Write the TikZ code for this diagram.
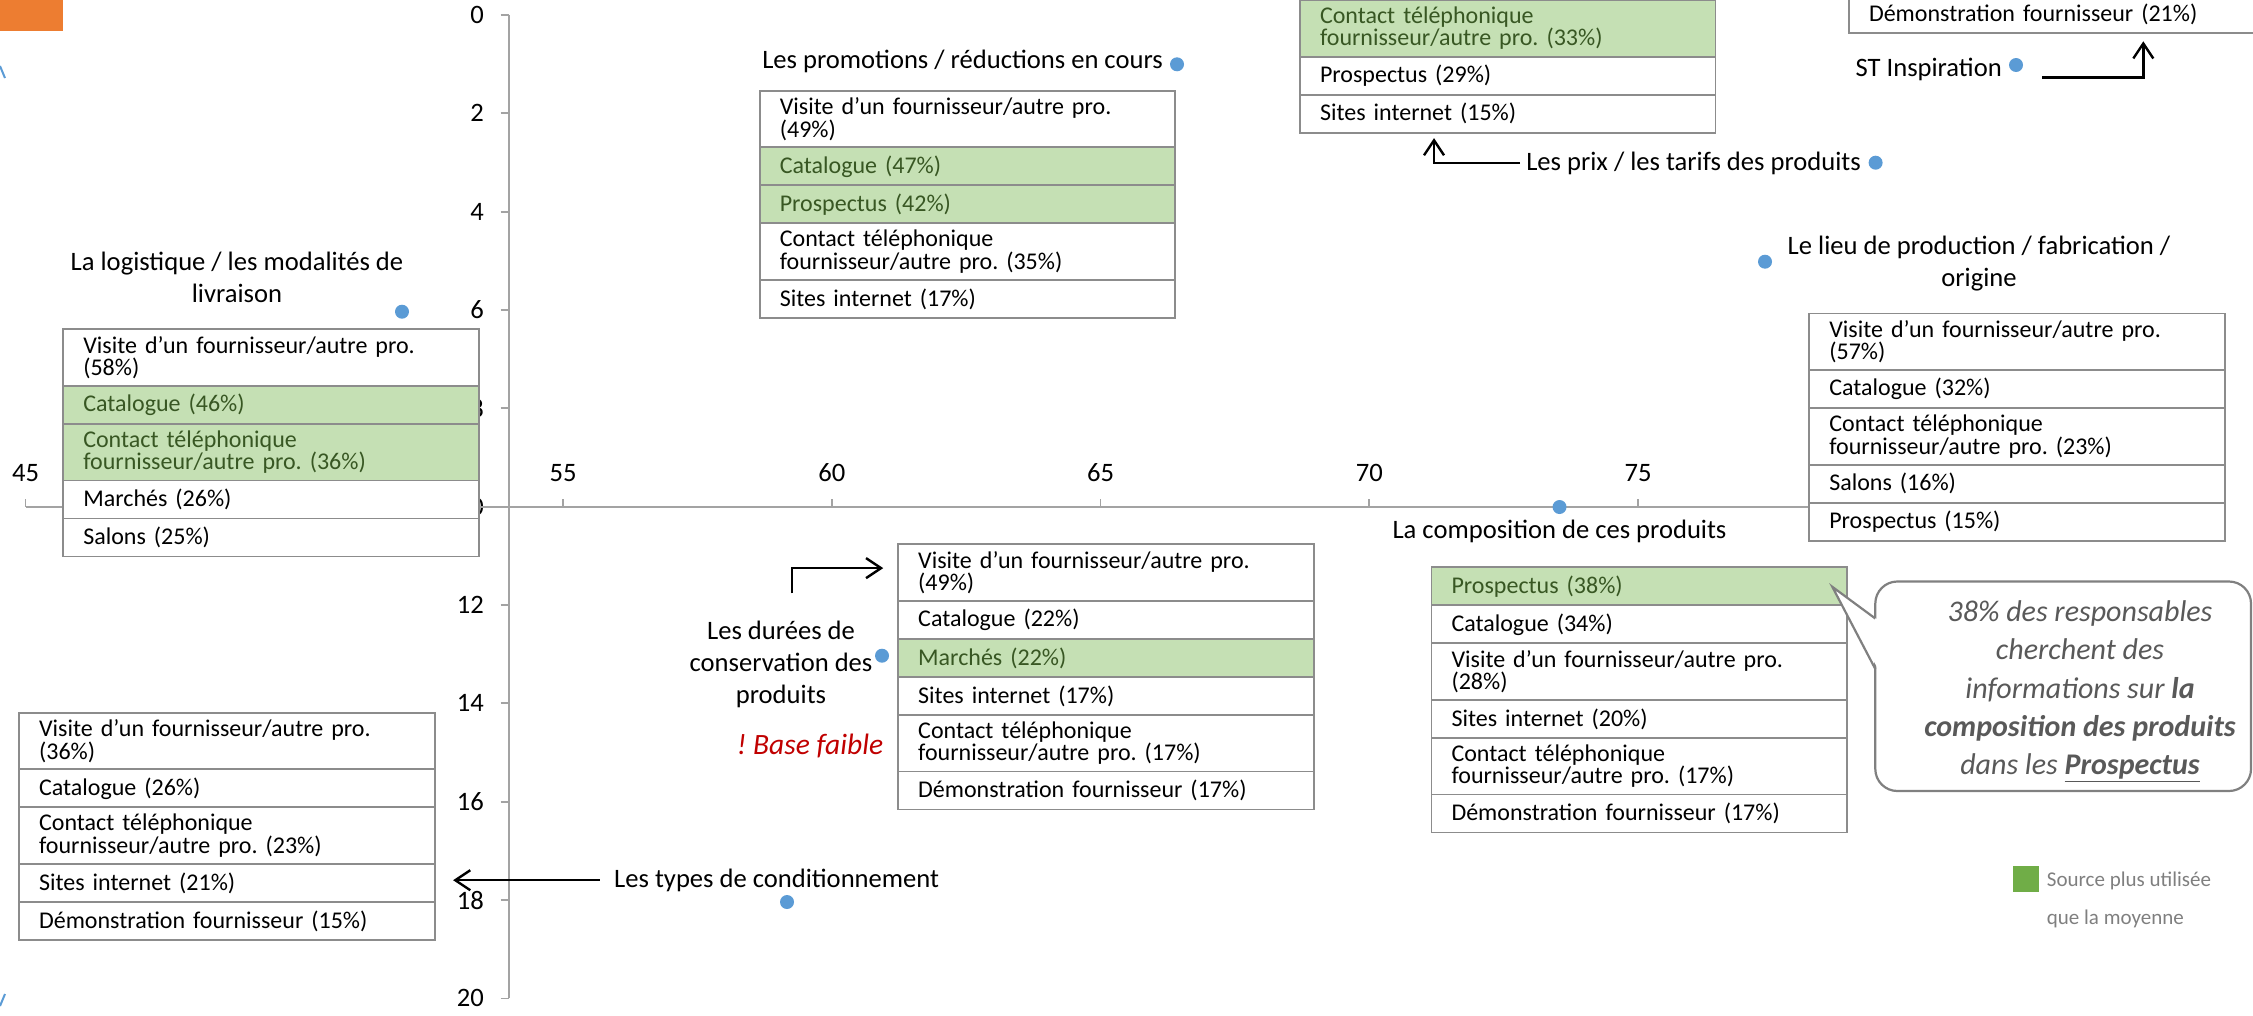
\documentclass[tikz,border=0pt]{standalone}
\usepackage{fontspec}
\setmainfont{Carlito}
\usetikzlibrary{arrows.meta}
\frenchspacing
\definecolor{boxgray}{HTML}{8C8C8C}
\definecolor{rowgreen}{HTML}{C5E0B4}
\definecolor{txtgreen}{HTML}{385723}
\definecolor{dotblue}{HTML}{5B9BD5}
\definecolor{axisgray}{HTML}{A3A3A3}
\definecolor{orangec}{HTML}{ED7D31}
\definecolor{leggreen}{HTML}{70AD47}
\definecolor{leggray}{HTML}{7F7F7F}
\definecolor{callgray}{HTML}{595959}
\definecolor{callborder}{HTML}{808080}
\definecolor{basered}{HTML}{C00000}
\newcommand\bxfont{\fontsize{24pt}{18.5pt}\selectfont}
\newcommand\lblfont{\fontsize{26.6pt}{32.4pt}\selectfont}
\begin{document}
\frenchspacing
\begin{tikzpicture}[x=1pt,y=-1pt,
  row/.style={draw=boxgray, line width=1.8pt, fill=white, text=black, anchor=north west,
    outer sep=0pt, inner xsep=20pt, inner ysep=0pt, text width=375.5pt, align=left, font=\bxfont},
  r1/.style={row, minimum height=38pt},
  r2/.style={row, minimum height=56.6pt},
  g1/.style={r1, fill=rowgreen, text=txtgreen},
  g2/.style={r2, fill=rowgreen, text=txtgreen},
  lbl/.style={font=\lblfont, text=black, inner sep=0pt, align=center},
  tick/.style={font=\lblfont, text=black, inner sep=0pt},
  axis/.style={draw=axisgray, line width=1.8pt},
  dot/.style={circle, fill=dotblue, inner sep=0pt, minimum size=14pt},
  arr/.style={draw=black, line width=2.4pt, -{Straight Barb[length=15pt,width=20pt,line width=2.4pt]}},
  callout/.style={draw=callborder, line width=2.2pt}
]
\useasboundingbox (0,0) rectangle (2253,1015);
\clip (0,0) rectangle (2253,1015);

% orange fragment and blue fragments at the left edge
\fill[orangec] (0,0) rectangle (63,31);
\draw[dotblue, line width=2pt] (0,66) -- (5,78);
\draw[dotblue, line width=2pt] (0,1006) -- (5,994);

% axes
\draw[axis] (509,15) -- (509,998);
\foreach \v in {0,2,...,20} {
  \draw[axis] (500.5,{15+49.17*\v}) -- (509,{15+49.17*\v});
  \node[tick, anchor=east] (yl\v) at (484,{15+49.17*\v}) {\v};
}
\draw[axis] (25.5,506.7) -- (1907,506.7);
\foreach \v in {45,50,...,80} {
  \draw[axis] ({25.5+53.75*(\v-45)},506.7) -- ({25.5+53.75*(\v-45)},498.5);
}
\foreach \v in {45,55,60,65,70,75} {
  \node[tick] (xl\v) at ({25.5+53.75*(\v-45)},473) {\v};
}

% La logistique
\node[r2] (lg1) at (63.3,329.3) {Visite d’un fournisseur/autre pro.\\(58\%)};
\node[g1] (lg2) at (lg1.south west) {Catalogue (46\%)};
\node[g2] (lg3) at (lg2.south west) {Contact téléphonique\\fournisseur/autre pro. (36\%)};
\node[r1] (lg4) at (lg3.south west) {Marchés (26\%)};
\node[r1] (lg5) at (lg4.south west) {Salons (25\%)};

% Les promotions
\node[r2] (pm1) at (759.8,90.7) {Visite d’un fournisseur/autre pro.\\(49\%)};
\node[g1] (pm2) at (pm1.south west) {Catalogue (47\%)};
\node[g1] (pm3) at (pm2.south west) {Prospectus (42\%)};
\node[r2] (pm4) at (pm3.south west) {Contact téléphonique\\fournisseur/autre pro. (35\%)};
\node[r1] (pm5) at (pm4.south west) {Sites internet (17\%)};

% Les prix
\node[g2] (pr1) at (1300,0) {Contact téléphonique\\fournisseur/autre pro. (33\%)};
\node[r1] (pr2) at (pr1.south west) {Prospectus (29\%)};
\node[r1] (pr3) at (pr2.south west) {Sites internet (15\%)};

% ST Inspiration
\node[r1] (st1) at (1849,-4.7) {Démonstration fournisseur (21\%)};

% Le lieu de production
\node[r2] (li1) at (1809.3,313.5) {Visite d’un fournisseur/autre pro.\\(57\%)};
\node[r1] (li2) at (li1.south west) {Catalogue (32\%)};
\node[r2] (li3) at (li2.south west) {Contact téléphonique\\fournisseur/autre pro. (23\%)};
\node[r1] (li4) at (li3.south west) {Salons (16\%)};
\node[r1] (li5) at (li4.south west) {Prospectus (15\%)};

% La composition
\node[g1] (co1) at (1431.5,567.3) {Prospectus (38\%)};
\node[r1] (co2) at (co1.south west) {Catalogue (34\%)};
\node[r2] (co3) at (co2.south west) {Visite d’un fournisseur/autre pro.\\(28\%)};
\node[r1] (co4) at (co3.south west) {Sites internet (20\%)};
\node[r2] (co5) at (co4.south west) {Contact téléphonique\\fournisseur/autre pro. (17\%)};
\node[r1] (co6) at (co5.south west) {Démonstration fournisseur (17\%)};

% Les durees de conservation
\node[r2] (du1) at (898.2,544.3) {Visite d’un fournisseur/autre pro.\\(49\%)};
\node[r1] (du2) at (du1.south west) {Catalogue (22\%)};
\node[g1] (du3) at (du2.south west) {Marchés (22\%)};
\node[r1] (du4) at (du3.south west) {Sites internet (17\%)};
\node[r2] (du5) at (du4.south west) {Contact téléphonique\\fournisseur/autre pro. (17\%)};
\node[r1] (du6) at (du5.south west) {Démonstration fournisseur (17\%)};

% Les types de conditionnement
\node[r2] (ty1) at (19.1,712.7) {Visite d’un fournisseur/autre pro.\\(36\%)};
\node[r1] (ty2) at (ty1.south west) {Catalogue (26\%)};
\node[r2] (ty3) at (ty2.south west) {Contact téléphonique\\fournisseur/autre pro. (23\%)};
\node[r1] (ty4) at (ty3.south west) {Sites internet (21\%)};
\node[r1] (ty5) at (ty4.south west) {Démonstration fournisseur (15\%)};

% labels
\node[lbl, anchor=base east] (pmlbl) at (1163,68.3) {Les promotions / réductions en cours};
\node[lbl] (lglbl) at (237,277.5) {La logistique / les modalités de\\livraison};
\node[lbl, anchor=base east] (prlbl) at (1861,170) {Les prix / les tarifs des produits};
\node[lbl, anchor=base east] (stlbl) at (2002,76) {ST Inspiration};
\node[lbl] (lilbl) at (1979,263.3) {Le lieu de production / fabrication /\\origine};
\node[lbl, anchor=base] (colbl) at (1559.5,538.3) {La composition de ces produits};
\node[lbl] (dulbl) at (781,664.4) {Les durées de\\conservation des\\produits};
\node[lbl, anchor=base, text=basered, font=\fontsize{29.5pt}{32pt}\selectfont\itshape] (bflbl) at (810,754) {! Base faible};
\node[lbl, anchor=base west] (tylbl) at (614,887.3) {Les types de conditionnement};

% data points
\node[dot] (dlg) at (402,311.7) {};
\node[dot] (dpm) at (1177,64.3) {};
\node[dot] (dpr) at (1875.6,162.7) {};
\node[dot] (dst) at (2016,65) {};
\node[dot] (dli) at (1765,261.7) {};
\node[dot] (dco) at (1559.5,507) {};
\node[dot] (ddu) at (882,655.7) {};
\node[dot] (dty) at (787,902) {};

% connectors
\coordinate (prA) at ([xshift=-6pt]prlbl.west);
\draw[arr, shorten >=5.5pt] (prA) -| ([xshift=134pt]pr3.south west);
\coordinate (stA) at (2042,77.3);
\draw[arr, shorten >=8pt] (stA) -| ([xshift=294.3pt]st1.south west);
\coordinate (duA) at (792,593.4);
\draw[arr, shorten >=15pt] (duA) |- ([yshift=4.5pt]du1.west);
\coordinate (tyA) at ([xshift=-14.5pt]tylbl.west);
\draw[arr, shorten >=18.5pt] (tyA) -- (tyA -| ty4.east);

% callout
\draw[callout, fill=white, rounded corners=22pt] (1875.3,581.5) rectangle (2251,791);
\fill[white] (1877.5,619.5) -- (1832.3,586.8) -- (1877.5,668) -- cycle;
\draw[callout, line join=miter] (1875.3,618.5) -- (1832.3,586.8) -- (1875.3,669);
\node[font=\fontsize{30pt}{38.3pt}\selectfont\itshape, text=callgray, align=center, inner sep=0pt] (callout) at (2080,691)
  {38\% des responsables\\cherchent des\\informations sur \textbf{la}\\\textbf{composition des produits}\\dans les \textbf{\underline{Prospectus}}};

% legend
\node[fill=leggreen, minimum size=26pt, inner sep=0pt, anchor=north west] (legsq) at (2013,866) {};
\node[font=\fontsize{21pt}{38pt}\selectfont, text=leggray, align=left, inner sep=0pt, anchor=north west] (legtxt) at (2046.7,871.3) {Source plus utilisée\\que la moyenne};
\end{tikzpicture}
\end{document}
